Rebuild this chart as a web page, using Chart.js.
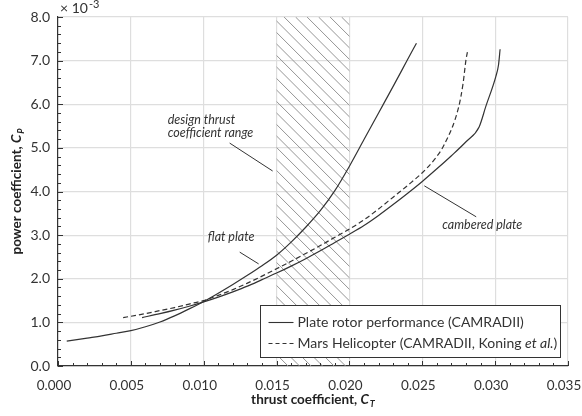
<!DOCTYPE html>
<html>
<head>
<meta charset="utf-8">
<script src="https://cdn.jsdelivr.net/npm/chart.js@4.4.1/dist/chart.umd.min.js"></script>
<style>
  html, body { margin: 0; padding: 0; background: #fff; }
  #wrap { width: 582px; height: 416px; }
</style>
</head>
<body>
<div id="wrap"><canvas id="cp_chart" width="582" height="416"></canvas></div>
<script>
// thrust coefficient / power coefficient (x 10^-3)
const flat_ct = [0.0006, 0.002, 0.003, 0.004, 0.005, 0.006, 0.007, 0.008, 0.009, 0.010, 0.011, 0.012, 0.013, 0.014, 0.015, 0.016, 0.017, 0.018, 0.019, 0.020, 0.021, 0.022, 0.023, 0.024, 0.0246];
const flat_cp = [0.57, 0.64, 0.69, 0.75, 0.81, 0.90, 1.01, 1.15, 1.31, 1.48, 1.67, 1.87, 2.08, 2.30, 2.54, 2.84, 3.18, 3.56, 4.02, 4.58, 5.19, 5.80, 6.41, 7.03, 7.40];

const cambered_ct = [0.00577, 0.007, 0.008, 0.009, 0.010, 0.011, 0.012, 0.013, 0.014, 0.015, 0.016, 0.017, 0.018, 0.019, 0.020, 0.021, 0.022, 0.023, 0.024, 0.025, 0.026, 0.027, 0.028, 0.0289, 0.02936, 0.03005, 0.03023, 0.03034];
const cambered_cp = [1.11, 1.20, 1.28, 1.37, 1.47, 1.58, 1.70, 1.83, 1.98, 2.13, 2.29, 2.46, 2.64, 2.83, 3.02, 3.22, 3.45, 3.70, 3.96, 4.23, 4.52, 4.82, 5.14, 5.48, 5.95, 6.64, 6.90, 7.26];

const mars_ct = [0.00447, 0.006, 0.007, 0.008, 0.009, 0.010, 0.011, 0.012, 0.013, 0.014, 0.015, 0.016, 0.017, 0.018, 0.019, 0.020, 0.021, 0.022, 0.023, 0.024, 0.025, 0.0258, 0.0265, 0.0275, 0.0278, 0.028, 0.02813];
const mars_cp = [1.11, 1.20, 1.27, 1.34, 1.42, 1.50, 1.62, 1.75, 1.90, 2.06, 2.23, 2.40, 2.58, 2.76, 2.95, 3.14, 3.35, 3.60, 3.87, 4.14, 4.43, 4.72, 5.07, 5.94, 6.48, 7.02, 7.25];

const design_range = [0.015, 0.020];
const legend_labels = ["Plate rotor performance (CAMRADII)", "Mars Helicopter (CAMRADII, Koning ", "et al.", ")"];

const FONT = "Lato, 'Open Sans', sans-serif";
const INK = '#333333';

function toPoints(xs, ys) {
    return xs.map((x, i) => ({ x: x, y: ys[i] }));
}

function isMajorX(v) { return Math.round(v * 1000) % 5 === 0; }
function isMajorY(v) { return Math.abs(v - Math.round(v)) < 1e-6; }

// hatched design thrust range, behind the curves
const hatchPlugin = {
    id: 'hatch',
    beforeDatasetsDraw(chart) {
        const ctx = chart.ctx, xs = chart.scales.x, area = chart.chartArea;
        const x0 = xs.getPixelForValue(design_range[0]);
        const x1 = xs.getPixelForValue(design_range[1]);
        ctx.save();
        ctx.beginPath();
        ctx.rect(x0, area.top, x1 - x0, area.bottom - area.top);
        ctx.clip();
        ctx.strokeStyle = '#959595';
        ctx.lineWidth = 1;
        const h = area.bottom - area.top;
        ctx.beginPath();
        for (let s = x0 - h; s < x1 + 10; s += 11.5) {
            ctx.moveTo(s, area.top);
            ctx.lineTo(s + h, area.bottom);
        }
        ctx.stroke();
        ctx.restore();
    }
};

// inward ticks, axis titles, annotations and legend
const decorPlugin = {
    id: 'decor',
    afterDraw(chart) {
        const ctx = chart.ctx, xs = chart.scales.x, ys = chart.scales.y, area = chart.chartArea;
        ctx.save();

        // ticks pointing into the plot
        ctx.strokeStyle = INK;
        ctx.lineWidth = 1;
        ctx.beginPath();
        xs.ticks.forEach(t => {
            const px = Math.round(xs.getPixelForValue(t.value)) + 0.5;
            const len = isMajorX(t.value) ? 5 : 3;
            ctx.moveTo(px, area.bottom);
            ctx.lineTo(px, area.bottom - len);
        });
        ys.ticks.forEach(t => {
            const py = Math.round(ys.getPixelForValue(t.value)) + 0.5;
            const len = isMajorY(t.value) ? 5 : 3;
            ctx.moveTo(area.left, py);
            ctx.lineTo(area.left + len, py);
        });
        ctx.stroke();

        ctx.fillStyle = INK;
        ctx.textBaseline = 'alphabetic';

        // x 10^-3 multiplier
        ctx.font = "14px " + FONT;
        ctx.textAlign = 'left';
        ctx.fillText("\u00d7 10", area.left + 2, 13);
        const mw = ctx.measureText("\u00d7 10").width;
        ctx.font = "11px " + FONT;
        ctx.fillText("-3", area.left + 2 + mw + 1, 8);

        // x axis title with subscript
        drawTitle(ctx, "thrust coefficient, ", "C", "T", (area.left + area.right) / 2, 399);
        // y axis title, rotated
        ctx.save();
        ctx.translate(16, (area.top + area.bottom) / 2);
        ctx.rotate(-Math.PI / 2);
        drawTitle(ctx, "power coefficient, ", "C", "P", 0, 0);
        ctx.restore();

        // annotations (data coordinates)
        ctx.font = "italic 12.5px " + FONT;
        ctx.fillStyle = INK;
        ctx.textAlign = 'left';
        ctx.fillText("design thrust", xs.getPixelForValue(0.00753), ys.getPixelForValue(5.55));
        ctx.fillText("coefficient range", xs.getPixelForValue(0.00753), ys.getPixelForValue(5.25));
        ctx.textAlign = 'center';
        ctx.fillText("flat plate", xs.getPixelForValue(0.01188), ys.getPixelForValue(2.86));
        ctx.textAlign = 'left';
        ctx.fillText("cambered plate", xs.getPixelForValue(0.02637), ys.getPixelForValue(3.13));

        ctx.strokeStyle = INK;
        ctx.lineWidth = 1;
        ctx.beginPath();
        ctx.moveTo(xs.getPixelForValue(0.01178), ys.getPixelForValue(5.11));
        ctx.lineTo(xs.getPixelForValue(0.01473), ys.getPixelForValue(4.47));
        ctx.moveTo(xs.getPixelForValue(0.01247), ys.getPixelForValue(2.61));
        ctx.lineTo(xs.getPixelForValue(0.01377), ys.getPixelForValue(2.34));
        ctx.moveTo(xs.getPixelForValue(0.02514), ys.getPixelForValue(4.13));
        ctx.lineTo(xs.getPixelForValue(0.0287), ys.getPixelForValue(3.42));
        ctx.stroke();

        // legend box, lower right
        const lx = 260.5, ly = 305.5, lw = 300, lh = 52;
        ctx.fillStyle = '#ffffff';
        ctx.fillRect(lx, ly, lw, lh);
        ctx.strokeStyle = INK;
        ctx.lineWidth = 1;
        ctx.strokeRect(lx, ly, lw, lh);

        ctx.lineWidth = 1.1;
        ctx.beginPath();
        ctx.moveTo(lx + 8, ly + 17);
        ctx.lineTo(lx + 33, ly + 17);
        ctx.stroke();
        ctx.setLineDash([4, 3]);
        ctx.beginPath();
        ctx.moveTo(lx + 8, ly + 38);
        ctx.lineTo(lx + 33, ly + 38);
        ctx.stroke();
        ctx.setLineDash([]);

        ctx.fillStyle = INK;
        ctx.textAlign = 'left';
        ctx.textBaseline = 'middle';
        ctx.font = "14px " + FONT;
        ctx.fillText(legend_labels[0], lx + 37, ly + 17);
        let tx = lx + 37;
        ctx.fillText(legend_labels[1], tx, ly + 38);
        tx += ctx.measureText(legend_labels[1]).width;
        ctx.font = "italic 14px " + FONT;
        ctx.fillText(legend_labels[2], tx, ly + 38);
        tx += ctx.measureText(legend_labels[2]).width;
        ctx.font = "14px " + FONT;
        ctx.fillText(legend_labels[3], tx, ly + 38);

        ctx.restore();
    }
};

function drawTitle(ctx, main, sym, sub, cx, cy) {
    ctx.save();
    ctx.textBaseline = 'alphabetic';
    ctx.textAlign = 'left';
    ctx.font = "bold 13.5px " + FONT;
    const w1 = ctx.measureText(main).width;
    ctx.font = "bold italic 13.5px " + FONT;
    const w2 = ctx.measureText(sym).width;
    ctx.font = "bold italic 9px " + FONT;
    const w3 = ctx.measureText(sub).width;
    let x = cx - (w1 + w2 + w3 + 1) / 2;
    const base = cy + 5;
    ctx.fillStyle = '#222';
    ctx.font = "bold 13.5px " + FONT;
    ctx.fillText(main, x, base);
    x += w1;
    ctx.font = "bold italic 13.5px " + FONT;
    ctx.fillText(sym, x, base);
    x += w2 + 1;
    ctx.font = "bold italic 9px " + FONT;
    ctx.fillText(sub, x, base + 3);
    ctx.restore();
}

const lineStyle = {
    borderColor: INK,
    borderWidth: 1.2,
    pointRadius: 0,
    fill: false,
    cubicInterpolationMode: 'monotone'
};

const datasets = [
    Object.assign({ label: 'flat plate', data: toPoints(flat_ct, flat_cp) }, lineStyle),
    Object.assign({ label: 'cambered plate', data: toPoints(cambered_ct, cambered_cp) }, lineStyle),
    Object.assign({ label: 'Mars Helicopter', data: toPoints(mars_ct, mars_cp), borderDash: [5, 3] }, lineStyle)
];

const canvas = document.getElementById('cp_chart');
const chart = new Chart(canvas, {
    type: 'line',
    data: { datasets: datasets },
    plugins: [hatchPlugin, decorPlugin],
    options: {
        responsive: false,
        animation: false,
        events: [],
        layout: { padding: { top: 17, right: 14, left: 0, bottom: 0 } },
        plugins: { legend: { display: false }, tooltip: { enabled: false } },
        scales: {
            x: {
                type: 'linear',
                min: 0,
                max: 0.035,
                afterFit(scale) {
                    scale.height = 50;
                    scale.paddingLeft = 0;
                    scale.paddingRight = 0;
                },
                afterBuildTicks(scale) {
                    const t = [];
                    for (let i = 0; i <= 35; i++) t.push({ value: i / 1000 });
                    scale.ticks = t;
                },
                ticks: {
                    autoSkip: false,
                    maxRotation: 0,
                    padding: 12,
                    labelOffset: -4,
                    color: INK,
                    font: { family: FONT, size: 13.5 },
                    callback: v => isMajorX(v) ? v.toFixed(3) : ''
                },
                grid: {
                    drawTicks: false,
                    lineWidth: 1.2,
                    color: c => (c.tick && isMajorX(c.tick.value)) ? '#dedede' : 'rgba(0,0,0,0)'
                },
                border: { color: INK, width: 1.2 }
            },
            y: {
                type: 'linear',
                min: 0,
                max: 8,
                afterFit(scale) {
                    scale.width = 58;
                    scale.paddingTop = 0;
                    scale.paddingBottom = 0;
                },
                afterBuildTicks(scale) {
                    const t = [];
                    for (let i = 0; i <= 40; i++) t.push({ value: i / 5 });
                    scale.ticks = t;
                },
                ticks: {
                    autoSkip: false,
                    padding: 8,
                    color: INK,
                    font: { family: FONT, size: 14 },
                    callback: v => isMajorY(v) ? v.toFixed(1) : ''
                },
                grid: {
                    drawTicks: false,
                    lineWidth: 1.2,
                    color: c => (c.tick && isMajorY(c.tick.value)) ? '#dedede' : 'rgba(0,0,0,0)'
                },
                border: { color: INK, width: 1.2 }
            }
        }
    }
});
</script>
</body>
</html>
